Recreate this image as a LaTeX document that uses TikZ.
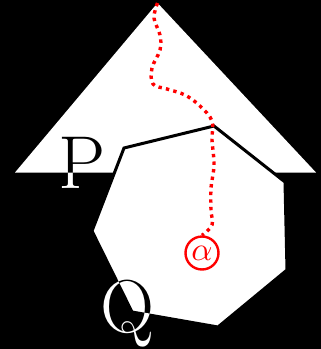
\documentclass[tikz,border=0pt]{standalone}
\usetikzlibrary{calc}
\begin{document}
\begin{tikzpicture}[x=1pt,y=-1pt,
  redpath/.style={red, line width=3.4pt, dash pattern=on 3.4pt off 4.2pt},
  bigletter/.style={text=white, inner sep=0pt, anchor=base, font=\fontsize{75}{75}\selectfont},
  alphanode/.style={circle, draw=red, line width=2.4pt, fill=white, minimum size=33pt, inner sep=0pt, text=red}]
  \fill[black] (0,0) rectangle (321,349);
  \useasboundingbox (0,0) rectangle (321,349);
  % triangle
  \coordinate (apex) at (157.5,3);
  \coordinate (bl) at (15,172.5);
  \coordinate (br) at (316,172.5);
  \fill[white] (apex) -- (bl) -- (br) -- cycle;
  % heptagon
  \coordinate (h1) at (124,148);
  \coordinate (h2) at (214,126);
  \coordinate (h3) at (285,182);
  \coordinate (h4) at (287,270);
  \coordinate (h5) at (218,327);
  \coordinate (h6) at (132,312);
  \coordinate (h7) at (92,231);
  \draw[fill=white, draw=black, line width=3pt, line join=miter] (h1) -- (h2) -- (h3) -- (h4) -- (h5) -- (h6) -- (h7) -- cycle;
  % alpha node
  \node[alphanode] (alpha) at (202,253) {\scalebox{3.3}{$\alpha$}};
  % red dotted path
  \draw[redpath] plot[smooth, tension=0.6] coordinates {(apex) (154,18) (160,35) (160,50) (152,68) (153,84) (167,89) (185,95) (200,106) (212,121) (212,140) (214,165) (211,188) (211,210) (212,225) (alpha.north)};
  % letters
  \begin{scope}[blend mode=difference]
    \node[bigletter] (P) at (82,188) {P};
    \node[bigletter] (Q) at (127,332) {Q};
  \end{scope}
\end{tikzpicture}
\end{document}
